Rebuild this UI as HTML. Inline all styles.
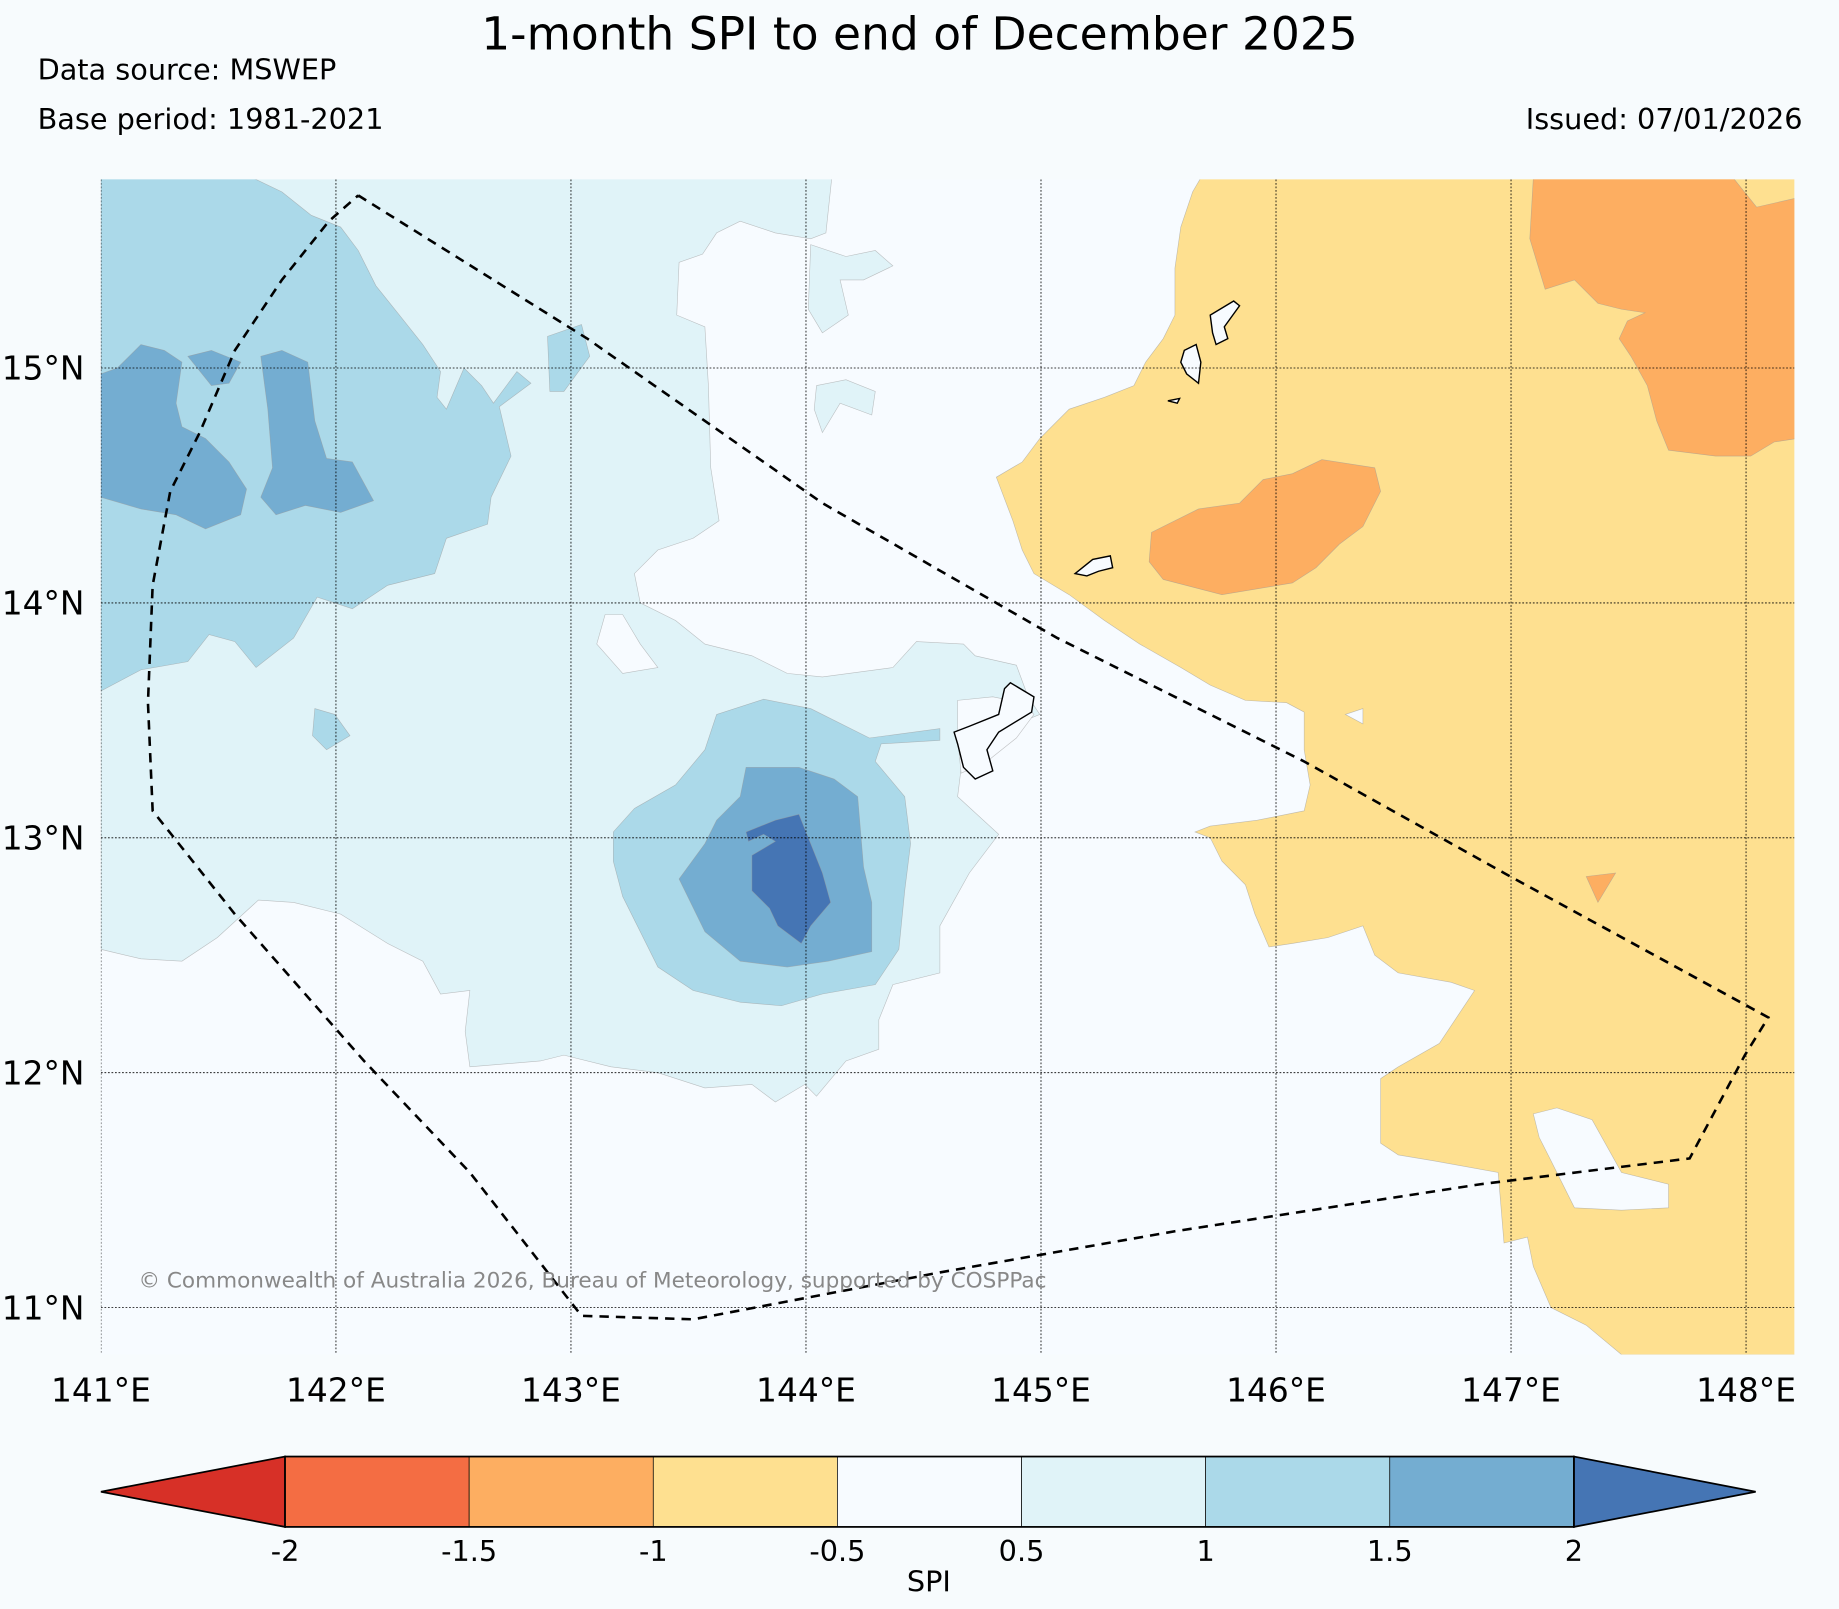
<!DOCTYPE html>
<html><head><meta charset="utf-8"><style>
html,body{margin:0;padding:0;background:#f7fbfd;}
svg{display:block;font-family:"DejaVu Sans","Liberation Sans",sans-serif;}
</style></head><body>
<svg id="chart" width="1839" height="1609" viewBox="0 0 1568 1372" xmlns="http://www.w3.org/2000/svg">
<rect width="1568" height="1372" fill="#f7fbfd"/>
<text x="784" y="42" font-size="38.8" text-anchor="middle">1-month SPI to end of December 2025</text>
<text x="32" y="68" font-size="24.5">Data source: MSWEP</text>
<text x="32" y="110" font-size="24.5">Base period: 1981-2021</text>
<text x="1537" y="110" font-size="24.5" text-anchor="end">Issued: 07/01/2026</text>
<defs><clipPath id="pc"><rect x="86" y="153" width="1444" height="1002"/></clipPath></defs>
<g id="plot" clip-path="url(#pc)">
<rect x="86" y="153" width="1444" height="1002" fill="#f7fbff"/>
</g>
<g id="axes"></g>
<g id="cbar"></g>
</svg>
<script>
const lonTicks=[141,142,143,144,145,146,147,148];
const latTicks=[11,12,13,14,15];
const cbarLevels=[-2,-1.5,-1,-0.5,0.5,1,1.5,2];
const cbarLabels=["-2","-1.5","-1","-0.5","0.5","1","1.5","2"];
const cbarColors=["#d73027","#f46d43","#fdae61","#fee090","#f7fbff","#e0f3f8","#abd9e9","#74add1","#4575b4"];
// contour polygons in [lon, lat]
const lightBlueMain=[[141,15.81],[144.11,15.81],[144.085,15.575],[144.02,15.55],[143.87,15.575],[143.72,15.625],[143.62,15.575],[143.56,15.485],[143.46,15.45],[143.45,15.225],[143.57,15.175],[143.585,14.925],[143.595,14.575],[143.63,14.35],[143.52,14.275],[143.37,14.225],[143.27,14.125],[143.295,14.0],[143.445,13.925],[143.57,13.825],[143.77,13.775],[143.92,13.70],[144.07,13.685],[144.37,13.725],[144.47,13.835],[144.67,13.825],[144.72,13.775],[144.895,13.735],[144.945,13.60],[144.995,13.525],[144.87,13.475],[144.67,13.375],[144.645,13.175],[144.82,13.015],[144.695,12.85],[144.57,12.625],[144.57,12.425],[144.37,12.375],[144.31,12.225],[144.31,12.10],[144.17,12.05],[144.045,11.90],[143.995,11.95],[143.87,11.875],[143.77,11.95],[143.57,11.935],[143.37,12.0],[143.17,12.025],[142.97,12.075],[142.87,12.05],[142.57,12.025],[142.55,12.175],[142.57,12.35],[142.445,12.335],[142.37,12.475],[142.22,12.55],[142.02,12.675],[141.82,12.725],[141.67,12.735],[141.495,12.575],[141.345,12.475],[141.17,12.485],[141,12.525]];
const lightBlueA=[[144.02,15.525],[144.17,15.475],[144.295,15.50],[144.37,15.435],[144.245,15.375],[144.145,15.375],[144.18,15.225],[144.07,15.15],[144.01,15.25]];
const lightBlueB=[[144.045,14.925],[144.17,14.95],[144.295,14.90],[144.28,14.80],[144.145,14.85],[144.07,14.725],[144.035,14.825]];
const whiteHole1=[[143.145,13.95],[143.22,13.95],[143.295,13.825],[143.37,13.725],[143.22,13.70],[143.11,13.825]];
const whiteGuam=[[144.645,13.585],[144.795,13.60],[144.92,13.575],[144.97,13.525],[144.895,13.425],[144.77,13.325],[144.66,13.275],[144.645,13.425]];
const blue2West=[[141,15.81],[141.645,15.81],[141.77,15.75],[141.895,15.65],[142.02,15.60],[142.095,15.50],[142.17,15.35],[142.27,15.225],[142.37,15.10],[142.445,14.985],[142.43,14.875],[142.47,14.825],[142.545,15.0],[142.62,14.925],[142.67,14.85],[142.77,14.985],[142.83,14.935],[142.695,14.835],[142.745,14.625],[142.66,14.45],[142.645,14.335],[142.47,14.275],[142.42,14.125],[142.22,14.075],[142.07,13.975],[141.92,14.025],[141.82,13.85],[141.66,13.725],[141.57,13.835],[141.46,13.865],[141.37,13.75],[141.17,13.715],[141,13.625]];
const blue2BlobA=[[142.90,15.135],[143.045,15.185],[143.08,15.05],[142.97,14.90],[142.91,14.90]];
const blue2BlobB=[[141.91,13.55],[141.995,13.525],[142.06,13.435],[141.96,13.375],[141.90,13.435]];
const blue2Center=[[143.27,13.125],[143.445,13.225],[143.57,13.375],[143.62,13.525],[143.82,13.59],[144.02,13.55],[144.27,13.425],[144.57,13.465],[144.57,13.415],[144.32,13.40],[144.295,13.325],[144.42,13.175],[144.445,12.975],[144.42,12.775],[144.395,12.525],[144.295,12.375],[144.07,12.335],[143.895,12.285],[143.72,12.30],[143.52,12.35],[143.37,12.45],[143.295,12.60],[143.22,12.75],[143.18,12.90],[143.18,13.025]];
const blue3WestA=[[141,14.975],[141.07,15.0],[141.17,15.10],[141.27,15.075],[141.345,15.025],[141.32,14.85],[141.345,14.75],[141.445,14.70],[141.545,14.60],[141.62,14.485],[141.595,14.375],[141.445,14.315],[141.32,14.375],[141.17,14.40],[141,14.45]];
const blue3WestB=[[141.37,15.05],[141.47,15.075],[141.595,15.025],[141.545,14.935],[141.47,14.925]];
const blue3WestC=[[141.68,15.05],[141.77,15.075],[141.88,15.025],[141.91,14.775],[141.96,14.615],[142.07,14.60],[142.16,14.435],[142.02,14.385],[141.87,14.415],[141.745,14.375],[141.68,14.45],[141.73,14.575],[141.71,14.825]];
const blue3Center=[[143.46,12.825],[143.57,12.975],[143.62,13.075],[143.72,13.175],[143.745,13.30],[143.97,13.30],[144.12,13.25],[144.22,13.175],[144.245,12.875],[144.28,12.725],[144.28,12.515],[144.095,12.475],[143.92,12.45],[143.72,12.475],[143.57,12.60]];
const blue4Center=[[143.745,13.025],[143.87,13.075],[143.97,13.10],[144.02,12.975],[144.07,12.85],[144.105,12.725],[144.02,12.625],[143.98,12.55],[143.88,12.625],[143.845,12.70],[143.77,12.775],[143.77,12.925],[143.87,12.985],[143.82,13.015],[143.755,12.985]];
const yellowEast=[[145.68,15.81],[148.22,15.81],[148.22,10.80],[147.47,10.80],[147.32,10.925],[147.17,11.0],[147.095,11.175],[147.07,11.30],[146.97,11.275],[146.945,11.575],[146.67,11.625],[146.52,11.65],[146.445,11.70],[146.445,11.975],[146.52,12.025],[146.695,12.125],[146.845,12.35],[146.745,12.385],[146.52,12.425],[146.42,12.50],[146.37,12.625],[146.22,12.575],[146.07,12.55],[145.97,12.535],[145.91,12.675],[145.87,12.80],[145.77,12.90],[145.72,13.0],[145.655,13.025],[145.72,13.05],[145.92,13.075],[146.12,13.115],[146.145,13.225],[146.12,13.375],[146.12,13.535],[146.045,13.575],[145.87,13.585],[145.72,13.65],[145.595,13.725],[145.42,13.825],[145.27,13.925],[145.12,14.035],[144.97,14.125],[144.92,14.225],[144.88,14.35],[144.81,14.535],[144.92,14.60],[144.995,14.70],[145.12,14.825],[145.27,14.875],[145.395,14.925],[145.445,15.025],[145.52,15.125],[145.57,15.225],[145.57,15.425],[145.595,15.60],[145.645,15.75]];
const whiteHole2=[[147.095,11.825],[147.195,11.85],[147.345,11.80],[147.47,11.575],[147.67,11.525],[147.67,11.425],[147.47,11.415],[147.27,11.425],[147.17,11.625],[147.12,11.725]];
const whiteHole3=[[146.295,13.525],[146.37,13.55],[146.37,13.485]];
const orangeNE=[[147.095,15.81],[147.945,15.81],[148.045,15.685],[148.22,15.725],[148.22,14.70],[148.12,14.685],[148.02,14.625],[147.87,14.625],[147.67,14.65],[147.62,14.775],[147.58,14.925],[147.51,15.05],[147.46,15.125],[147.495,15.20],[147.57,15.235],[147.47,15.25],[147.37,15.275],[147.27,15.375],[147.145,15.335],[147.08,15.55]];
const orangeMid=[[145.47,14.30],[145.67,14.40],[145.845,14.425],[145.945,14.525],[146.07,14.55],[146.195,14.61],[146.42,14.575],[146.445,14.475],[146.37,14.325],[146.27,14.25],[146.17,14.15],[146.07,14.085],[145.92,14.06],[145.77,14.035],[145.52,14.10],[145.46,14.175]];
const orangeSmall=[[147.32,12.835],[147.445,12.85],[147.37,12.725]];
const islandGuam=[[144.63,13.45],[144.695,13.475],[144.82,13.525],[144.845,13.635],[144.87,13.66],[144.97,13.60],[144.96,13.535],[144.82,13.45],[144.77,13.375],[144.795,13.285],[144.72,13.25],[144.67,13.30],[144.645,13.40]];
const islandSaipan=[[145.72,15.225],[145.82,15.285],[145.845,15.265],[145.78,15.175],[145.795,15.125],[145.745,15.10],[145.73,15.15]];
const islandTinian=[[145.61,15.075],[145.66,15.10],[145.68,15.025],[145.67,14.935],[145.62,14.975],[145.595,15.025]];
const islandRota=[[145.145,14.125],[145.22,14.185],[145.295,14.20],[145.305,14.15],[145.245,14.135],[145.195,14.115]];
const islandAguijan=[[145.54,14.86],[145.59,14.87],[145.58,14.85]];
const boundaryLine=[[142.095,15.735],[143.07,15.125],[144.07,14.425],[145.07,13.85],[146.12,13.325],[146.97,12.85],[148.095,12.235],[147.995,12.075],[147.76,11.635],[146.87,11.525],[145.57,11.325],[144.57,11.15],[143.52,10.95],[143.045,10.965],[142.57,11.575],[142.12,12.05],[141.57,12.675],[141.22,13.115],[141.20,13.575],[141.22,14.075],[141.295,14.475],[141.42,14.725],[141.57,15.075],[141.77,15.375],[141.97,15.625],[142.095,15.735]];

const NS='http://www.w3.org/2000/svg';
const X=lon=>86+(lon-141)*200.4;
const Y=lat=>1115-(lat-11)*200.3;
function mk(tag,attrs,parent){const e=document.createElementNS(NS,tag);for(const k in attrs)e.setAttribute(k,attrs[k]);parent.appendChild(e);return e;}
function pts(arr){return arr.map(p=>X(p[0]).toFixed(1)+','+Y(p[1]).toFixed(1)).join(' ');}
const plot=document.getElementById('plot');
const layers=[
 [lightBlueMain,'#e0f3f8','light-blue-region'],[lightBlueA,'#e0f3f8','light-blue-patch'],[lightBlueB,'#e0f3f8','light-blue-patch'],
 [whiteHole1,'#f7fbff','neutral-hole'],[whiteGuam,'#f7fbff','neutral-hole'],
 [blue2West,'#abd9e9','mid-blue-region'],[blue2BlobA,'#abd9e9','mid-blue-patch'],[blue2BlobB,'#abd9e9','mid-blue-patch'],[blue2Center,'#abd9e9','mid-blue-region'],
 [blue3WestA,'#74add1','dark-blue-region'],[blue3WestB,'#74add1','dark-blue-region'],[blue3WestC,'#74add1','dark-blue-region'],[blue3Center,'#74add1','dark-blue-region'],
 [blue4Center,'#4575b4','deep-blue-region'],
 [yellowEast,'#fee090','yellow-region'],[whiteHole2,'#f7fbff','neutral-hole'],[whiteHole3,'#f7fbff','neutral-hole'],
 [orangeNE,'#fdae61','orange-region'],[orangeMid,'#fdae61','orange-region'],[orangeSmall,'#fdae61','orange-region']
];
for(const [arr,col,name] of layers){
 const p=mk('polygon',{points:pts(arr),fill:col,stroke:'#999','stroke-width':0.5,'stroke-opacity':0.6},plot);
 
 
}
for(const [arr,name] of [[islandGuam,'guam-coastline'],[islandSaipan,'saipan-coastline'],[islandTinian,'tinian-coastline'],[islandRota,'rota-coastline'],[islandAguijan,'aguijan-coastline']]){
 const p=mk('polygon',{points:pts(arr),fill:'#f7fbff',stroke:'#000','stroke-width':1.2},plot);
 
 
}
for(const lon of lonTicks){
 const l=mk('line',{x1:X(lon),x2:X(lon),y1:153,y2:1155,stroke:'#000','stroke-width':0.7,'stroke-dasharray':'1.5,1.5'},plot);
 
 
}
for(const lat of latTicks){
 const l=mk('line',{x1:86,x2:1530,y1:Y(lat),y2:Y(lat),stroke:'#000','stroke-width':0.7,'stroke-dasharray':'1.5,1.5'},plot);
 
 
}
const bl=mk('polyline',{points:pts(boundaryLine),fill:'none',stroke:'#000','stroke-width':2.2,'stroke-dasharray':'8,6'},plot);


const cp=mk('text',{x:118,y:1098,'font-size':18.4,fill:'#888'},plot);
cp.textContent='© Commonwealth of Australia 2026, Bureau of Meteorology, supported by COSPPac';


const axes=document.getElementById('axes');
for(const lon of lonTicks){
 const t=mk('text',{x:X(lon),y:1195,'font-size':28,'text-anchor':'middle'},axes);
 t.textContent=lon+'°E';
 
 
}
for(const lat of latTicks){
 const t=mk('text',{x:72,y:Y(lat)+10,'font-size':28,'text-anchor':'end'},axes);
 t.textContent=lat+'°N';
 
 
}
const cb=document.getElementById('cbar');
const cbX0=243,cbW=157,cbY=1242,cbH=60,tipL=86,tipR=1497;
const CX=i=>cbX0+i*cbW;
const left=mk('polygon',{points:`${tipL},${cbY+cbH/2} ${CX(0)},${cbY} ${CX(0)},${cbY+cbH}`,fill:cbarColors[0],stroke:'#000','stroke-width':1.5},cb);


for(let i=0;i<cbarLevels.length-1;i++){
 const r=mk('rect',{x:CX(i),y:cbY,width:cbW,height:cbH,fill:cbarColors[i+1],stroke:'#000','stroke-width':0.6},cb);
 
 
}
const right=mk('polygon',{points:`${tipR},${cbY+cbH/2} ${CX(cbarLevels.length-1)},${cbY} ${CX(cbarLevels.length-1)},${cbY+cbH}`,fill:cbarColors[8],stroke:'#000','stroke-width':1.5},cb);


const ol=mk('rect',{x:CX(0),y:cbY,width:CX(cbarLevels.length-1)-CX(0),height:cbH,fill:'none',stroke:'#000','stroke-width':1.5},cb);


for(let i=0;i<cbarLabels.length;i++){
 const t=mk('text',{x:CX(i),y:1331,'font-size':24.5,'text-anchor':'middle'},cb);
 t.textContent=cbarLabels[i];
 
 
}
const st=mk('text',{x:792,y:1357,'font-size':24.5,'text-anchor':'middle'},cb);
st.textContent='SPI';


</script>
</body></html>
